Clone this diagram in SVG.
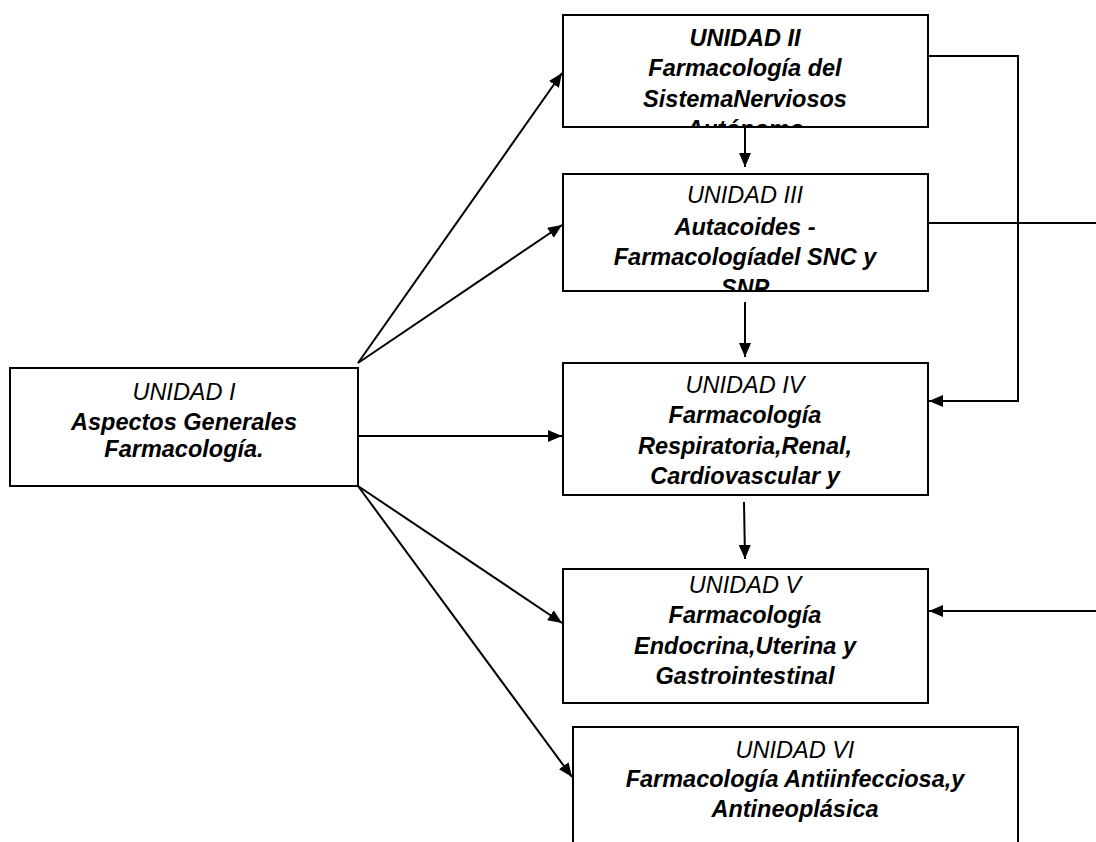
<svg xmlns="http://www.w3.org/2000/svg" width="1096" height="842" viewBox="0 0 1096 842">
<style>
.box{fill:#fff;stroke:#000;stroke-width:2}
.t{font-family:"Liberation Sans",Arial,sans-serif;font-size:23.5px;font-style:italic;fill:#000;text-anchor:middle}
.b{font-weight:bold}
.c{fill:none;stroke:#000;stroke-width:2}
</style>
<defs>
<marker id="ah" viewBox="0 0 14 12" refX="14" refY="6" markerWidth="14" markerHeight="12" markerUnits="userSpaceOnUse" orient="auto">
<path d="M0,0 L14,6 L0,12 Z" fill="#000"/>
</marker>
<clipPath id="c2"><rect x="564" y="16" width="363" height="110"/></clipPath>
<clipPath id="c3"><rect x="564" y="175" width="363" height="115"/></clipPath>
</defs>
<rect width="1096" height="842" fill="#fff"/>
<g id="connectors">
<line class="c" x1="358" y1="363" x2="562" y2="73" marker-end="url(#ah)"/>
<line class="c" x1="358" y1="363" x2="562" y2="225" marker-end="url(#ah)"/>
<line class="c" x1="358" y1="436" x2="562" y2="436" marker-end="url(#ah)"/>
<line class="c" x1="358" y1="486" x2="562" y2="623" marker-end="url(#ah)"/>
<line class="c" x1="358" y1="486" x2="572" y2="777" marker-end="url(#ah)"/>
<line class="c" x1="745" y1="127" x2="745" y2="167" marker-end="url(#ah)"/>
<line class="c" x1="745" y1="302" x2="745" y2="357" marker-end="url(#ah)"/>
<line class="c" x1="744" y1="502" x2="745" y2="559" marker-end="url(#ah)"/>
<polyline class="c" points="928,56 1018,56 1018,401 929,401" marker-end="url(#ah)"/>
<line class="c" x1="928" y1="223" x2="1096" y2="223"/>
<line class="c" x1="1096" y1="611" x2="929" y2="611" marker-end="url(#ah)"/>
</g>
<g id="n1">
<rect class="box" x="10" y="368" width="348" height="118"/>
<text class="t" x="184" y="400">UNIDAD I</text>
<text class="t b" x="184" y="430">Aspectos Generales</text>
<text class="t b" x="184" y="457">Farmacología.</text>
</g>
<g id="n2">
<rect class="box" x="563" y="15" width="365" height="112"/>
<g clip-path="url(#c2)">
<text class="t b" x="745" y="46">UNIDAD II</text>
<text class="t b" x="745" y="76">Farmacología del</text>
<text class="t b" x="745" y="107">SistemaNerviosos</text>
<text class="t b" x="745" y="137">Autónomo</text>
</g>
</g>
<g id="n3">
<rect class="box" x="563" y="174" width="365" height="117"/>
<g clip-path="url(#c3)">
<text class="t" x="745" y="203">UNIDAD III</text>
<text class="t b" x="745" y="235">Autacoides -</text>
<text class="t b" x="745" y="265">Farmacologíadel SNC y</text>
<text class="t b" x="745" y="296">SNP</text>
</g>
</g>
<g id="n4">
<rect class="box" x="563" y="363" width="365" height="132"/>
<text class="t" x="745" y="393">UNIDAD IV</text>
<text class="t b" x="745" y="423">Farmacología</text>
<text class="t b" x="745" y="454">Respiratoria,Renal,</text>
<text class="t b" x="745" y="484">Cardiovascular y</text>
</g>
<g id="n5">
<rect class="box" x="563" y="569" width="365" height="134"/>
<text class="t" x="745" y="593">UNIDAD V</text>
<text class="t b" x="745" y="623">Farmacología</text>
<text class="t b" x="745" y="654">Endocrina,Uterina y</text>
<text class="t b" x="745" y="684">Gastrointestinal</text>
</g>
<g id="n6">
<rect class="box" x="573" y="727" width="445" height="140"/>
<text class="t" x="795" y="758">UNIDAD VI</text>
<text class="t b" x="795" y="787">Farmacología Antiinfecciosa,y</text>
<text class="t b" x="795" y="817">Antineoplásica</text>
</g>
</svg>
